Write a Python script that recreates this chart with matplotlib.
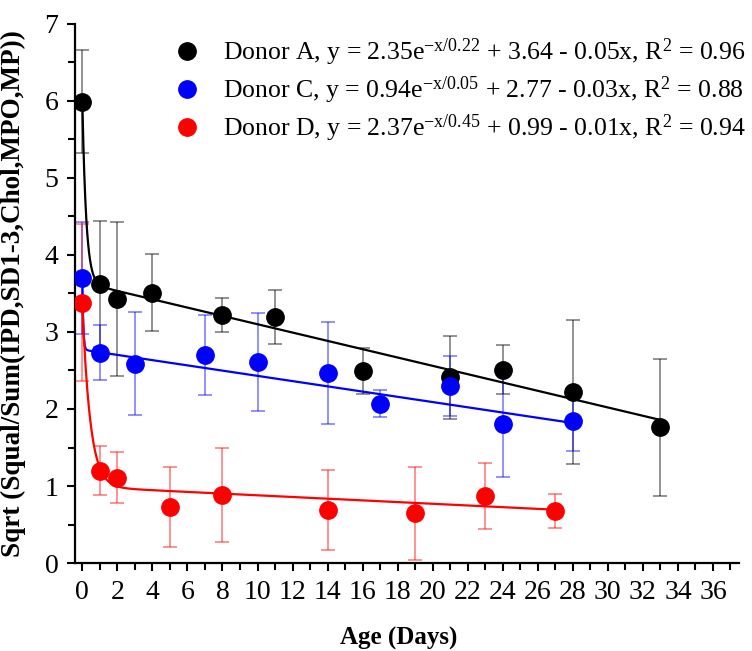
import numpy as np
import matplotlib
matplotlib.use("Agg")
import matplotlib.pyplot as plt
from matplotlib.ticker import MultipleLocator

plt.rcParams['font.family'] = ['Liberation Serif', 'DejaVu Serif']
plt.rcParams['mathtext.fontset'] = 'custom'
plt.rcParams['mathtext.rm'] = 'Liberation Serif'
plt.rcParams['mathtext.it'] = 'Liberation Serif:italic'

# Donor A (black)
xA = [0, 1, 2, 4, 8, 11, 16, 21, 24, 28, 33]
yA = [5.99, 3.62, 3.43, 3.51, 3.22, 3.19, 2.49, 2.41, 2.51, 2.22, 1.76]
eA = [0.67, 0.82, 1.00, 0.50, 0.22, 0.35, 0.30, 0.54, 0.32, 0.93, 0.89]
# Donor C (blue)
xC = [0, 1, 3, 7, 10, 14, 17, 21, 24, 28]
yC = [3.70, 2.73, 2.59, 2.70, 2.61, 2.47, 2.07, 2.30, 1.81, 1.85]
eC = [0.73, 0.36, 0.67, 0.52, 0.64, 0.66, 0.18, 0.39, 0.69, 0.40]
# Donor D (red)
xD = [0, 1, 2, 5, 8, 14, 19, 23, 27]
yD = [3.38, 1.20, 1.11, 0.73, 0.89, 0.69, 0.645, 0.87, 0.68]
eD = [1.02, 0.32, 0.33, 0.52, 0.61, 0.52, 0.60, 0.43, 0.22]

# fit parameters (amplitude, tau, offset, slope) as drawn
fitA = [2.35, 0.22, 3.64, 0.054]
fitC = [0.94, 0.05, 2.77, 0.034]
fitD = [2.37, 0.45, 0.99, 0.011]

labels = [
    r"Donor A, y = 2.35e$^{\mathregular{-x/0.22}}$ + 3.64 - 0.05x, R$^{\mathregular{2}}$ = 0.96",
    r"Donor C, y = 0.94e$^{\mathregular{-x/0.05}}$ + 2.77 - 0.03x, R$^{\mathregular{2}}$ = 0.88",
    r"Donor D, y = 2.37e$^{\mathregular{-x/0.45}}$ + 0.99 - 0.01x, R$^{\mathregular{2}}$ = 0.94",
]
colors = ['#000000', '#0000ff', '#ff0000']

fig = plt.figure(figsize=(7.52, 6.51), dpi=100)
ax = fig.add_axes([0.0997, 0.135, 0.8833, 0.8286])

handles = []
for xs, ys, es, fit, c, lab in zip([xA, xC, xD], [yA, yC, yD], [eA, eC, eD],
                                  [fitA, fitC, fitD], colors, labels):
    ax.errorbar(xs, ys, yerr=es, fmt='none', ecolor=c, alpha=0.5,
                elinewidth=1.2, capsize=5, capthick=1.2, zorder=2)
    xx = np.linspace(0, max(xs), 600)
    a, t, o, s = fit
    ax.plot(xx, a * np.exp(-xx / t) + o - s * xx, color=c, lw=1.6, zorder=3)
    h, = ax.plot(xs, ys, 'o', color=c, ms=12.5, mec=c, label=lab, zorder=4)
    handles.append(h)

ax.set_xlim(-0.42, 37.5)
ax.set_ylim(0, 7)
ax.xaxis.set_major_locator(MultipleLocator(2))
ax.xaxis.set_minor_locator(MultipleLocator(1))
ax.yaxis.set_major_locator(MultipleLocator(1))
ax.yaxis.set_minor_locator(MultipleLocator(0.5))
ax.tick_params(which='both', direction='out', width=1.5, labelsize=20)
ax.tick_params(which='major', length=6, pad=6)
ax.tick_params(which='minor', length=5)
for sp in ['top', 'right']:
    ax.spines[sp].set_visible(False)
for sp in ['left', 'bottom']:
    ax.spines[sp].set_linewidth(1.6)

ax.set_xlabel('Age (Days)', fontsize=18, fontweight='bold')
ax.xaxis.set_label_coords(0.488, -0.118)
ax.set_ylabel('Sqrt (Squal/Sum(IPD,SD1-3,Chol,MPO,MP))', fontsize=19.5,
              fontweight='bold')
ax.yaxis.set_label_coords(-0.073, 0.5)

fig.legend(handles=handles, loc='upper right', bbox_to_anchor=(1.012, 0.968),
           frameon=False, fontsize=18.5, handletextpad=0.9, labelspacing=0.25,
           handlelength=1.0, borderaxespad=0.2)

fig.savefig('out.png', dpi=100)
